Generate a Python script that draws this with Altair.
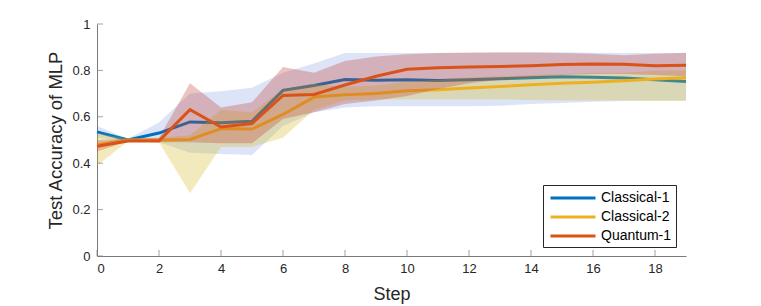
import altair as alt
import pandas as pd

steps = list(range(20))
series_names = ["Classical-1", "Classical-2", "Quantum-1"]
line_colors = ["#0072BD", "#EDB120", "#D95319"]
band_colors = ["#5577dd", "#d4b820", "#c03a2b"]
band_opacity = [0.2, 0.3, 0.3]

c1_mean = [0.535, 0.50, 0.53, 0.578, 0.574, 0.581, 0.714, 0.735, 0.761, 0.758,
           0.76, 0.757, 0.76, 0.764, 0.768, 0.773, 0.771, 0.767, 0.76, 0.752]
c1_lo = [0.51, 0.495, 0.49, 0.445, 0.44, 0.435, 0.56, 0.62, 0.64, 0.645,
         0.645, 0.645, 0.645, 0.648, 0.655, 0.66, 0.665, 0.668, 0.67, 0.67]
c1_hi = [0.56, 0.505, 0.575, 0.70, 0.71, 0.725, 0.79, 0.83, 0.875, 0.875,
         0.875, 0.875, 0.875, 0.878, 0.878, 0.878, 0.876, 0.875, 0.875, 0.875]

c2_mean = [0.48, 0.50, 0.50, 0.502, 0.549, 0.547, 0.61, 0.685, 0.695, 0.70,
           0.712, 0.717, 0.724, 0.731, 0.738, 0.745, 0.749, 0.755, 0.763, 0.768]
c2_lo = [0.39, 0.495, 0.49, 0.27, 0.47, 0.47, 0.51, 0.63, 0.67, 0.675,
         0.675, 0.675, 0.675, 0.675, 0.672, 0.67, 0.67, 0.67, 0.668, 0.668]
c2_hi = [0.53, 0.505, 0.51, 0.52, 0.63, 0.62, 0.72, 0.74, 0.73, 0.735,
         0.75, 0.76, 0.77, 0.775, 0.78, 0.785, 0.79, 0.79, 0.80, 0.80]

q1_mean = [0.473, 0.496, 0.496, 0.631, 0.556, 0.571, 0.692, 0.696, 0.737, 0.775,
           0.805, 0.811, 0.815, 0.817, 0.82, 0.825, 0.828, 0.826, 0.82, 0.822]
q1_lo = [0.45, 0.495, 0.49, 0.49, 0.486, 0.486, 0.59, 0.62, 0.655, 0.67,
         0.69, 0.72, 0.745, 0.76, 0.77, 0.78, 0.785, 0.785, 0.78, 0.775]
q1_hi = [0.50, 0.505, 0.51, 0.745, 0.64, 0.663, 0.815, 0.79, 0.84, 0.86,
         0.87, 0.875, 0.877, 0.877, 0.877, 0.875, 0.872, 0.865, 0.872, 0.876]

x_ticks = [0, 2, 4, 6, 8, 10, 12, 14, 16, 18]
y_ticks = [0, 0.2, 0.4, 0.6, 0.8, 1.0]

means = [c1_mean, c2_mean, q1_mean]
los = [c1_lo, c2_lo, q1_lo]
his = [c1_hi, c2_hi, q1_hi]

AX = "#7a7a7a"
FONT = "Liberation Sans"

xscale = alt.Scale(domain=[0, 19], nice=False, zero=False)
yscale = alt.Scale(domain=[0, 1], nice=False)
cscale = alt.Scale(domain=series_names, range=line_colors)

xaxis = alt.Axis(values=x_ticks, grid=False, ticks=False, domainColor=AX,
                 labelColor="#262626", labelFont=FONT, labelFontSize=13,
                 labelPadding=6, title="Step", titleFont=FONT, titleFontSize=18,
                 titleFontWeight="normal", titleColor="#262626", titlePadding=10)
yaxis = alt.Axis(values=y_ticks, grid=False, ticks=False, domainColor=AX,
                 labelColor="#262626", labelFont=FONT, labelFontSize=13,
                 labelPadding=7, format="~g", title="Test Accuracy of MLP",
                 titleFont=FONT, titleFontSize=18.5, titleFontWeight="normal",
                 titleColor="#262626", titlePadding=6)

layers = []
for i, name in enumerate(series_names):
    df = pd.DataFrame({"step": steps, "mean": means[i], "lo": los[i],
                       "hi": his[i], "series": name})
    band = alt.Chart(df).mark_area(opacity=band_opacity[i], color=band_colors[i]).encode(
        x=alt.X("step:Q", scale=xscale, axis=xaxis),
        y=alt.Y("lo:Q", scale=yscale, axis=yaxis),
        y2="hi:Q",
    )
    line = alt.Chart(df).mark_line(strokeWidth=3).encode(
        x=alt.X("step:Q", scale=xscale, axis=xaxis),
        y=alt.Y("mean:Q", scale=yscale, axis=yaxis),
        color=alt.Color("series:N", scale=cscale, legend=alt.Legend(
            title=None, orient="none", legendX=446, legendY=161,
            strokeColor="#262626", fillColor="white", padding=4,
            symbolType="M-3,0H3", symbolStrokeWidth=3, symbolSize=225,
            symbolOffset=17, labelFont=FONT, labelFontSize=14,
            labelColor="#000000", rowPadding=3, labelOffset=19)),
    )
    layers += [band, line]

xt = pd.DataFrame({"t": x_ticks})
yt = pd.DataFrame({"t": y_ticks})
xtick = alt.Chart(xt).mark_tick(orient="vertical", size=6, thickness=1, color=AX, yOffset=-3).encode(
    x=alt.X("t:Q", scale=xscale, axis=xaxis), y=alt.datum(0, scale=yscale))
ytick = alt.Chart(yt).mark_tick(orient="horizontal", size=6, thickness=1, color=AX, xOffset=3).encode(
    y=alt.Y("t:Q", scale=yscale, axis=yaxis), x=alt.datum(0, scale=xscale))
layers += [xtick, ytick]

chart = alt.layer(*layers).properties(
    width=589, height=232,
    autosize=alt.AutoSizeParams(type="none"),
    padding={"left": 89, "top": 16, "right": 50, "bottom": 50},
).configure_view(stroke=None)

chart.save("out.html", embed_options={"renderer": "svg", "actions": False})
